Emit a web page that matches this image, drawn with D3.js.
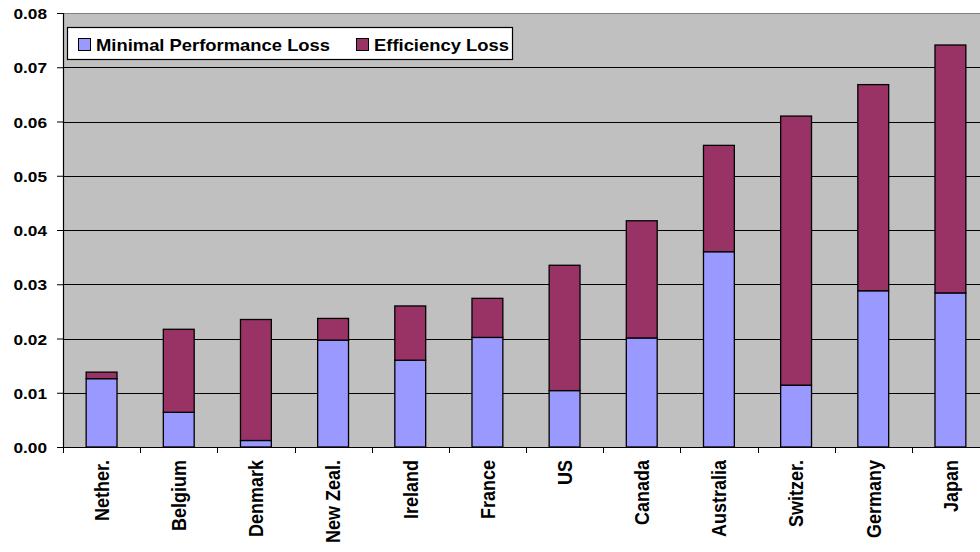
<!DOCTYPE html>
<html>
<head>
<meta charset="utf-8">
<script src="https://cdn.jsdelivr.net/npm/d3@7"></script>
<style>
  body { margin: 0; background: #fff; }
  text { font-family: Arial, "Liberation Sans", sans-serif; font-weight: bold; fill: #000; }
</style>
</head>
<body>
<div class="chart-container"></div>
<script>
var countries = ['Nether.', 'Belgium', 'Denmark', 'New Zeal.', 'Ireland', 'France', 'US', 'Canada', 'Australia', 'Switzer.', 'Germany', 'Japan'];
var minimalLoss = [0.0126, 0.0064, 0.0012, 0.0197, 0.0160, 0.0202, 0.0104, 0.0201, 0.0360, 0.0114, 0.0288, 0.0284];
var efficiencyLoss = [0.0012, 0.0153, 0.0223, 0.0040, 0.0100, 0.0072, 0.0231, 0.0216, 0.0196, 0.0496, 0.0380, 0.0457];
var seriesNames = ['Minimal Performance Loss', 'Efficiency Loss'];
var yTicks = [0, 0.01, 0.02, 0.03, 0.04, 0.05, 0.06, 0.07, 0.08];

var colors = ['#9999FF', '#993366'];
var stretch = 1.15; // text looks horizontally stretched in the source

var margin = {top: 13, right: 0, bottom: 105, left: 63},
	width = 926,
	height = 434;

var svg = d3.select('.chart-container').append('svg')
	.attr('width', 980)
	.attr('height', 552);

var g = svg.append('g')
	.attr('transform', 'translate(' + margin.left + ',' + margin.top + ')');

var x = d3.scaleBand()
	.domain(countries)
	.range([0, width])
	.paddingInner(0.6)
	.paddingOuter(0.3);

var y = d3.scaleLinear()
	.domain([0, 0.08])
	.range([height, 0]);

var rows = countries.map(function(c, i) {
	return {country: c, minimal: minimalLoss[i], efficiency: efficiencyLoss[i]};
});
var stack = d3.stack().keys(['minimal', 'efficiency']);
var layers = stack(rows);

// plot background
g.append('rect')
	.attr('width', width)
	.attr('height', height)
	.attr('fill', '#C0C0C0');

// gridlines
g.selectAll('.grid')
	.data(yTicks.slice(1))
	.enter().append('line')
	.attr('class', 'grid')
	.attr('x1', 0)
	.attr('x2', width)
	.attr('y1', function(d) { return Math.round(y(d)) + 0.5; })
	.attr('y2', function(d) { return Math.round(y(d)) + 0.5; })
	.attr('stroke', function(d) { return d === 0.08 ? '#808080' : '#000'; })
	.attr('stroke-width', 1);

// bars
g.selectAll('.layer')
	.data(layers)
	.enter().append('g')
	.attr('class', 'layer')
	.attr('fill', function(d, i) { return colors[i]; })
	.selectAll('rect')
	.data(function(d) { return d; })
	.enter().append('rect')
	.attr('x', function(d) { return x(d.data.country); })
	.attr('y', function(d) { return y(d[1]); })
	.attr('width', x.bandwidth())
	.attr('height', function(d) { return y(d[0]) - y(d[1]); })
	.attr('stroke', '#000')
	.attr('stroke-width', 1.3);

// y axis
var yAxis = d3.axisLeft(y)
	.tickValues(yTicks)
	.tickSize(6)
	.tickFormat(d3.format('.2f'));

var yAxisG = g.append('g').call(yAxis);
yAxisG.select('.domain').attr('stroke', '#000').attr('stroke-width', 1.2);
yAxisG.selectAll('.tick line').attr('stroke', '#000');
yAxisG.selectAll('.tick text')
	.attr('x', null)
	.attr('dy', null)
	.attr('transform', 'translate(-16,5.5) scale(' + stretch + ',1)')
	.style('font-size', '15px')
	.style('font-family', 'Arial, "Liberation Sans", sans-serif')
	.style('font-weight', 'bold');

// x axis line and boundary ticks
g.append('line')
	.attr('x1', 0).attr('x2', width)
	.attr('y1', height + 0.5).attr('y2', height + 0.5)
	.attr('stroke', '#000')
	.attr('stroke-width', 1.2);

var boundaries = d3.range(countries.length + 1).map(function(i) { return i * x.step(); });
g.selectAll('.xtick')
	.data(boundaries)
	.enter().append('line')
	.attr('class', 'xtick')
	.attr('x1', function(d) { return Math.round(d) + 0.5; })
	.attr('x2', function(d) { return Math.round(d) + 0.5; })
	.attr('y1', height)
	.attr('y2', height + 6)
	.attr('stroke', '#000');

g.selectAll('.xlabel')
	.data(countries)
	.enter().append('text')
	.attr('class', 'xlabel')
	.attr('transform', function(d) {
		return 'translate(' + (x(d) + x.bandwidth() / 2) + ',' + (height + 13) + ') scale(' + stretch + ',1) rotate(-90)';
	})
	.attr('dy', '0.35em')
	.style('text-anchor', 'end')
	.style('font-size', '18px')
	.text(function(d) { return d; });

// legend
var legend = g.append('g')
	.attr('transform', 'translate(4,14)');

legend.append('rect')
	.attr('x', 0.5)
	.attr('y', 0.5)
	.attr('width', 445)
	.attr('height', 32)
	.attr('fill', '#fff')
	.attr('stroke', '#000')
	.attr('stroke-width', 1.2);

var legendX = [11, 289];
var items = legend.selectAll('.legend')
	.data(seriesNames)
	.enter().append('g')
	.attr('class', 'legend')
	.attr('transform', function(d, i) { return 'translate(' + legendX[i] + ',0)'; });

items.append('rect')
	.attr('x', 0.5)
	.attr('y', 11.5)
	.attr('width', 12)
	.attr('height', 12)
	.attr('fill', function(d, i) { return colors[i]; })
	.attr('stroke', '#000');

items.append('text')
	.attr('transform', 'translate(18,23.5) scale(' + stretch + ',1)')
	.style('font-size', '16px')
	.text(function(d) { return d; });
</script>
</body>
</html>
